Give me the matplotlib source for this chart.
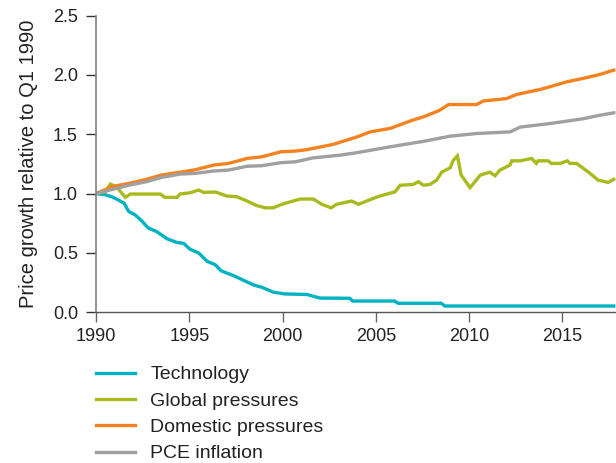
import numpy as np
import matplotlib
matplotlib.use("Agg")
import matplotlib.pyplot as plt

plt.rcParams['font.family'] = ['Liberation Sans', 'DejaVu Sans']

# values (year, price growth relative to Q1 1990)
tech_years = [1990.0, 1990.5, 1990.9, 1991.5, 1991.75, 1992.1, 1992.45, 1992.8, 1993.25,
              1993.8, 1994.3, 1994.7, 1995.05, 1995.5, 1995.95, 1996.4, 1996.7, 1997.35,
              1997.9, 1998.45, 1998.9, 1999.5, 2000.1, 2001.3, 2002.0, 2003.6, 2003.75,
              2006.0, 2006.2, 2008.5, 2008.7, 2017.75]
tech_vals = [1.0, 0.99, 0.97, 0.92, 0.85, 0.82, 0.77, 0.71, 0.68,
             0.62, 0.59, 0.58, 0.53, 0.50, 0.43, 0.40, 0.35, 0.31,
             0.27, 0.23, 0.21, 0.17, 0.155, 0.15, 0.12, 0.118, 0.095,
             0.095, 0.076, 0.076, 0.053, 0.053]

glob_years = [1990.0, 1990.5, 1990.77, 1991.1, 1991.57, 1991.84, 1993.44, 1993.7, 1994.34,
              1994.5, 1995.05, 1995.5, 1995.76, 1996.4, 1997.0, 1997.55, 1998.1, 1998.6,
              1999.07, 1999.5, 1999.96, 2000.4, 2000.94, 2001.65, 2002.1, 2002.6, 2002.9,
              2003.7, 2004.07, 2004.87, 2005.23, 2006.03, 2006.3, 2007.0, 2007.28, 2007.55,
              2007.9, 2008.26, 2008.53, 2008.98, 2009.15, 2009.37, 2009.57, 2010.05, 2010.6,
              2011.1, 2011.39, 2011.65, 2012.19, 2012.28, 2012.73, 2013.35, 2013.6, 2013.7,
              2014.24, 2014.4, 2014.87, 2015.26, 2015.4, 2015.76, 2016.48, 2016.9, 2017.45,
              2017.75]
glob_vals = [1.0, 1.015, 1.08, 1.057, 0.968, 0.996, 0.996, 0.968, 0.968,
             0.996, 1.007, 1.03, 1.01, 1.013, 0.98, 0.973, 0.937, 0.90,
             0.88, 0.88, 0.91, 0.93, 0.954, 0.954, 0.91, 0.88, 0.91,
             0.937, 0.91, 0.96, 0.98, 1.015, 1.07, 1.077, 1.10, 1.07,
             1.077, 1.114, 1.18, 1.217, 1.28, 1.318, 1.156, 1.05, 1.156,
             1.18, 1.15, 1.198, 1.24, 1.276, 1.276, 1.296, 1.254, 1.276,
             1.276, 1.254, 1.254, 1.276, 1.254, 1.254, 1.17, 1.114, 1.094,
             1.12]

dom_years = [1990.0, 1990.9, 1991.75, 1992.7, 1993.5, 1994.5, 1995.3, 1996.3, 1997.1,
             1998.1, 1998.9, 1999.9, 2000.7, 2001.3, 2002.7, 2004.0, 2004.7, 2005.76,
             2007.0, 2007.55, 2008.4, 2008.9, 2010.4, 2010.76, 2012.0, 2012.55, 2013.8,
             2014.33, 2015.2, 2016.1, 2017.0, 2017.75]
dom_vals = [1.0, 1.06, 1.085, 1.12, 1.156, 1.18, 1.20, 1.24, 1.254,
            1.296, 1.31, 1.352, 1.358, 1.37, 1.414, 1.478, 1.52, 1.549,
            1.62, 1.646, 1.70, 1.75, 1.75, 1.78, 1.80, 1.835, 1.877,
            1.90, 1.94, 1.97, 2.003, 2.04]

pce_years = [1990.0, 1991.75, 1992.7, 1993.5, 1994.5, 1995.3, 1996.3, 1997.1, 1998.1,
             1998.9, 1999.9, 2000.7, 2001.6, 2003.1, 2004.0, 2005.76, 2007.55, 2008.8,
             2009.0, 2010.4, 2012.2, 2012.73, 2014.33, 2016.1, 2017.0, 2017.75]
pce_vals = [1.0, 1.07, 1.10, 1.136, 1.164, 1.17, 1.19, 1.198, 1.23,
            1.235, 1.26, 1.268, 1.30, 1.324, 1.345, 1.394, 1.44, 1.478,
            1.484, 1.506, 1.52, 1.56, 1.59, 1.63, 1.66, 1.68]

labels = ['Technology', 'Global pressures', 'Domestic pressures', 'PCE inflation']
colors = ['#00B2C2', '#A9BA1E', '#F58220', '#A0A0A0']

fig = plt.figure(figsize=(6.16, 4.63), dpi=100)
ax = fig.add_axes([96 / 616, 1 - 312.3 / 463, 1 - 96 / 616, (312.3 - 15.5) / 463])

series = [(tech_years, tech_vals), (glob_years, glob_vals),
          (dom_years, dom_vals), (pce_years, pce_vals)]
for (xs, ys), lab, col in zip(series, labels, colors):
    ax.plot(xs, ys, color=col, lw=2.4, label=lab, solid_joinstyle='miter')

ax.set_xlim(1990, 2017.87)
ax.set_ylim(0, 2.5)
ax.set_xticks([1990, 1995, 2000, 2005, 2010, 2015])
ax.set_yticks([0.0, 0.5, 1.0, 1.5, 2.0, 2.5])
ax.set_yticklabels(['0.0', '0.5', '1.0', '1.5', '2.0', '2.5'])

for s in ['top', 'right']:
    ax.spines[s].set_visible(False)
ax.spines['left'].set_color('#808080')
ax.spines['left'].set_linewidth(1.2)
ax.spines['bottom'].set_color('#555555')
ax.spines['bottom'].set_linewidth(1.0)
ax.tick_params(axis='y', length=7, width=1.0, color='#333333', pad=6, labelsize=13,
               labelcolor='#222222')
ax.tick_params(axis='x', length=7, width=1.0, color='#666666', pad=4, labelsize=13,
               labelcolor='#222222')

ax.set_ylabel('Price growth relative to Q1 1990', fontsize=14.5, color='#222222')
ax.yaxis.set_label_coords((38 - 96) / 520, 0.5)

leg = fig.legend(loc='upper left', bbox_to_anchor=(88 / 616, 1 - 358 / 463), frameon=False,
                 fontsize=14, handlelength=2.0, handletextpad=0.8, labelspacing=0.45,
                 borderaxespad=0)
for t in leg.get_texts():
    t.set_color('#222222')

fig.savefig('out.png', dpi=100)
